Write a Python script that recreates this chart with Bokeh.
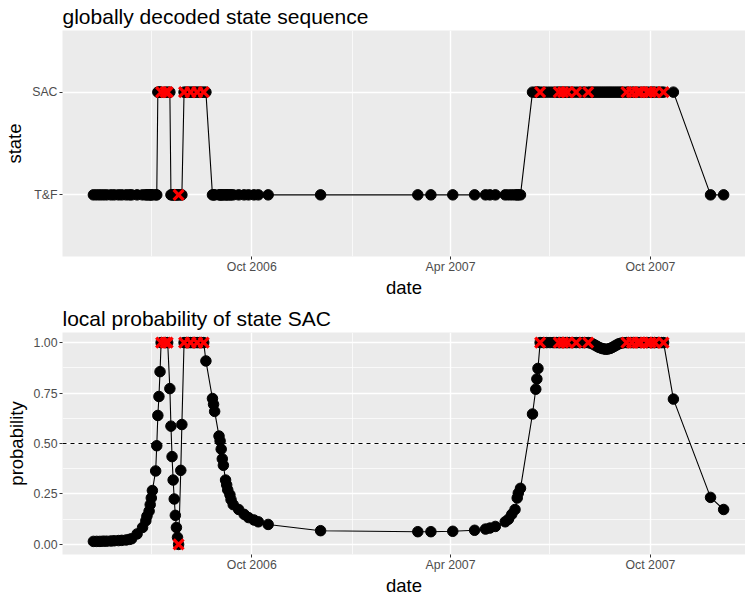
import pandas as pd
from bokeh.plotting import figure
from bokeh.models import (Range1d, FactorRange, FixedTicker, DatetimeTickFormatter,
                          Span, ColumnDataSource, PrintfTickFormatter)
from bokeh.layouts import column
from bokeh.embed import file_html
from bokeh.resources import INLINE

# ---------------- data ----------------
dates = [
    "2006-05-09", "2006-05-12", "2006-05-15", "2006-05-18", "2006-05-21", "2006-05-25", "2006-05-28",
    "2006-06-01", "2006-06-04", "2006-06-08", "2006-06-11", "2006-06-13", "2006-06-18", "2006-06-23",
    "2006-06-26", "2006-06-27", "2006-06-29", "2006-06-30", "2006-07-01", "2006-07-02", "2006-07-05",
    "2006-07-06",
    "2006-07-07", "2006-07-08", "2006-07-09", "2006-07-10", "2006-07-14", "2006-07-16", "2006-07-18",
    "2006-07-19", "2006-07-20", "2006-07-21", "2006-07-22", "2006-07-23", "2006-07-24", "2006-07-25",
    "2006-07-26", "2006-07-28", "2006-07-29",
    "2006-07-31", "2006-08-02", "2006-08-04", "2006-08-06", "2006-08-08", "2006-08-10", "2006-08-12",
    "2006-08-14", "2006-08-16", "2006-08-18", "2006-08-20",
    "2006-08-26", "2006-08-27", "2006-08-28", "2006-09-01", "2006-09-02", "2006-09-03", "2006-09-04",
    "2006-09-05", "2006-09-07", "2006-09-08", "2006-09-09", "2006-09-11", "2006-09-12", "2006-09-14",
    "2006-09-19", "2006-09-24", "2006-09-28", "2006-10-03", "2006-10-07", "2006-10-16", "2006-12-03",
    "2007-03-02", "2007-03-14", "2007-04-03", "2007-04-23", "2007-05-03", "2007-05-07", "2007-05-12",
    "2007-05-21", "2007-05-24", "2007-05-27", "2007-05-30", "2007-06-01", "2007-06-02", "2007-06-04",
    "2007-06-15", "2007-06-18", "2007-06-19", "2007-06-20",
    "2007-06-22", "2007-06-25", "2007-06-28", "2007-07-01", "2007-07-04", "2007-07-07", "2007-07-09",
    "2007-07-11", "2007-07-13", "2007-07-15", "2007-07-17", "2007-07-19", "2007-07-22", "2007-07-25",
    "2007-07-28", "2007-07-31", "2007-08-02", "2007-08-05",
    "2007-08-07", "2007-08-09", "2007-08-11", "2007-08-13", "2007-08-15", "2007-08-17", "2007-08-19",
    "2007-08-21", "2007-08-23", "2007-08-25", "2007-08-27", "2007-08-29", "2007-08-31", "2007-09-02",
    "2007-09-04", "2007-09-06",
    "2007-09-09", "2007-09-11", "2007-09-14", "2007-09-16", "2007-09-19", "2007-09-22", "2007-09-25",
    "2007-09-28", "2007-10-01", "2007-10-03", "2007-10-05", "2007-10-08", "2007-10-11", "2007-10-13",
    "2007-10-22", "2007-11-25", "2007-12-07",
]

prob_sac = [
    .015, .015, .015, .016, .016, .017, .018, .019, .020, .022, .025, .028, .052, .084,
    .117, .140, .165, .197, .230, .267, .364, .489,
    .639, .733, .856, 1.0, 1.0, 1.0, .772,
    .586, .435, .319, .225, .144, .084, .035, 0.0, .367, .594,
    1.0, 1.0, 1.0, 1.0, 1.0, 1.0, 1.0, 1.0, 1.0, 1.0, .909,
    .723, .694, .659, .537, .513, .472, .424, .392, .319, .295, .270, .246, .222, .197,
    .173, .149, .133, .121, .112, .099, .068,
    .063, .063, .065, .070, .076, .081, .089, .112, .125, .149, .173, .230, .254, .278,
    .646, .769, .820, .872,
    1.0, 1.0, 1.0, 1.0, 1.0, 1.0, 1.0, 1.0, 1.0, 1.0, 1.0, 1.0, 1.0, 1.0, 1.0, 1.0, 1.0, 1.0,
    .998, .994, .988, .982, .976, .972, .969, .967, .968, .971, .976, .982, .988, .994, .997, .999,
    1.0, 1.0, 1.0, 1.0, 1.0, 1.0, 1.0, 1.0, 1.0, 1.0, 1.0, 1.0, 1.0, 1.0,
    .720, .233, .173,
]

T, S = "T&F", "SAC"
state = [
    T, T, T, T, T, T, T, T, T, T, T, T, T, T, T, T, T, T, T, T, T, T,
    S, S, S, S, S, S, S,
    T, T, T, T, T, T, T, T, T, T,
    S, S, S, S, S, S, S, S, S, S, S,
    T, T, T, T, T, T, T, T, T, T, T, T, T, T, T, T, T, T, T, T, T,
    T, T, T, T, T, T, T, T, T, T, T, T, T, T,
    S, S, S, S,
    S, S, S, S, S, S, S, S, S, S, S, S, S, S, S, S, S, S,
    S, S, S, S, S, S, S, S, S, S, S, S, S, S, S, S,
    S, S, S, S, S, S, S, S, S, S, S, S, S, S,
    S, T, T,
]

# observations marked with a red cross
marked_dates = [
    "2006-07-10", "2006-07-14", "2006-07-16", "2006-07-26", "2006-07-31", "2006-08-06",
    "2006-08-12", "2006-08-18", "2007-06-22", "2007-07-09", "2007-07-13", "2007-07-17",
    "2007-07-25", "2007-08-05", "2007-09-09", "2007-09-14", "2007-09-19", "2007-09-22",
    "2007-09-28", "2007-10-01", "2007-10-05", "2007-10-13",
]

state_levels = ["T&F", "SAC"]
major_dates = ["2006-10-01", "2007-04-01", "2007-10-01"]
minor_dates = ["2006-04-01", "2006-07-01", "2007-01-01", "2007-07-01", "2008-01-01"]
prob_ticks = [0.0, 0.25, 0.5, 0.75, 1.0]
prob_minor = [0.125, 0.375, 0.625, 0.875]

# ---------------- sources ----------------
df = pd.DataFrame(dict(date=pd.to_datetime(dates), prob=prob_sac, state=state))
df["marked"] = df["date"].isin(pd.to_datetime(marked_dates))
src = ColumnDataSource(df)
src_m = ColumnDataSource(df[df["marked"]])

FONT = "Liberation Sans"
x_start = pd.Timestamp("2006-04-10 17:00")
x_end = x_start + pd.Timedelta(days=625.3)
xr = Range1d(start=x_start, end=x_end)


def ms(s):
    return pd.Timestamp(s).value / 1e6


fmt = "%b %Y"
dt_fmt = DatetimeTickFormatter(microseconds=fmt, milliseconds=fmt, seconds=fmt, minsec=fmt,
                               minutes=fmt, hourmin=fmt, hours=fmt, days=fmt, months=fmt,
                               years=fmt)


def style(p, title, title_standoff):
    p.title.text = title
    p.title.text_font = FONT
    p.title.text_font_size = "21px"
    p.title.text_font_style = "normal"
    p.title.text_color = "black"
    p.title.align = "left"
    p.title.standoff = title_standoff
    p.background_fill_color = "#EBEBEB"
    p.border_fill_color = "white"
    p.outline_line_color = None
    for ax in p.axis:
        ax.axis_line_color = None
        ax.major_tick_line_color = "#333333"
        ax.major_tick_in = 0
        ax.major_tick_out = 3
        ax.minor_tick_in = 0
        ax.minor_tick_out = 0
        ax.minor_tick_line_color = None
        ax.major_label_text_font = FONT
        ax.major_label_text_font_size = "12.3px"
        ax.major_label_text_color = "#4D4D4D"
        ax.major_label_standoff = 0
        ax.axis_label_text_font = FONT
        ax.axis_label_text_font_size = "18.5px"
        ax.axis_label_text_font_style = "normal"
        ax.axis_label_text_color = "black"
        ax.axis_label_standoff = 0
    p.yaxis.major_label_standoff = 2
    p.yaxis.axis_label_standoff = 4
    for g in p.grid:
        g.grid_line_color = "white"
        g.grid_line_width = 1.4
        g.minor_grid_line_color = "white"
        g.minor_grid_line_width = 0.7
    p.xaxis.ticker = FixedTicker(ticks=[ms(d) for d in major_dates],
                                 minor_ticks=[ms(d) for d in minor_dates])
    p.xaxis.formatter = dt_fmt
    p.xaxis.axis_label = "date"


# ---------------- top: decoded states ----------------
p1 = figure(width=745, height=300, x_axis_type="datetime", x_range=xr,
            y_range=FactorRange(factors=state_levels, range_padding=0.1,
                                range_padding_units="absolute"),
            output_backend="svg", toolbar_location=None,
            min_border_left=62, min_border_right=0, min_border_top=30, min_border_bottom=38)
style(p1, "globally decoded state sequence", 5)
p1.yaxis.axis_label = "state"
p1.line("date", "state", source=src, line_color="black", line_width=1.1)
p1.scatter("date", "state", source=src, size=10.5, color="black")
p1.scatter("date", "state", source=src_m, marker="x", size=14, line_color="red", line_width=3.2)

# ---------------- bottom: local probability ----------------
p2 = figure(width=745, height=298, x_axis_type="datetime", x_range=xr,
            y_range=Range1d(-0.05, 1.05),
            output_backend="svg", toolbar_location=None,
            min_border_left=62, min_border_right=0, min_border_top=32, min_border_bottom=38)
style(p2, "local probability of state SAC", 5)
p2.yaxis.axis_label = "probability"
p2.yaxis.ticker = FixedTicker(ticks=prob_ticks, minor_ticks=prob_minor)
p2.yaxis.formatter = PrintfTickFormatter(format="%.2f")
p2.add_layout(Span(location=0.5, dimension="width", line_color="black",
                   line_width=1, line_dash="4 4"))
p2.line("date", "prob", source=src, line_color="black", line_width=1.1)
p2.scatter("date", "prob", source=src, size=10.5, color="black")
p2.scatter("date", "prob", source=src_m, marker="x", size=14, line_color="red", line_width=3.2)

layout = column(p1, p2, spacing=0)
open("out.html", "w").write(file_html(layout, INLINE))
